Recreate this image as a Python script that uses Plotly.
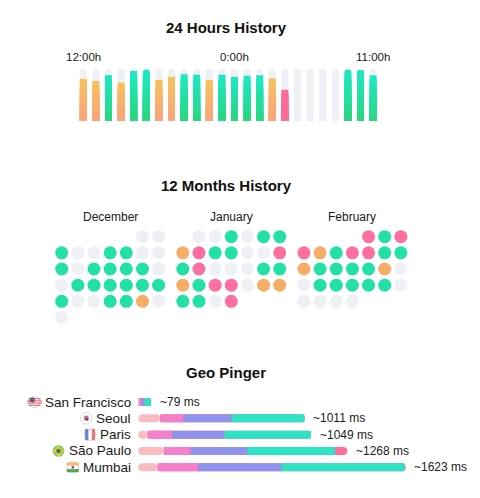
import datetime
import plotly.graph_objects as go

# the page body keeps its default 8px margin, so the figure is sized and
# calibrated against the window minus that margin
PAGE_MARGIN = 8
W, H = 480 - 2 * PAGE_MARGIN, 498 - 2 * PAGE_MARGIN
FONT = 'Liberation Sans, Arial, sans-serif'
INK = '#1a1a1c'

# ---- 24 hours history ----
HOUR_LABELS = ['12:00h', '0:00h', '11:00h']
HOUR_LABEL_AT = [0, 12, 23]
HOUR_UPTIME = [81, 77, 88, 74, 96, 99, 79, 85, 90, 89, 79, 89,
               85, 87, 88, 82, 60, 0, 0, 0, 0, 99, 98, 88]
HOUR_STATUS = ['warn', 'warn', 'ok', 'warn', 'ok', 'ok', 'warn', 'warn', 'ok', 'ok', 'warn', 'ok',
               'ok', 'ok', 'ok', 'warn', 'down', 'none', 'none', 'none', 'none', 'ok', 'ok', 'ok']

# ---- 12 months history (one letter per day: g ok, o warn, p down, n no data) ----
MONTH_NAMES = ['December', 'January', 'February']
MONTH_FIRST_DAY = [datetime.date(2018, 12, 1), datetime.date(2019, 1, 1), datetime.date(2019, 2, 1)]
DEC_DAYS = 'nn' 'gnnggnn' 'gnggggn' 'ngggggg' 'gnnggon' 'n'
JAN_DAYS = 'nngngg' 'opggnnp' 'gpnnngg' 'ogppnoo' 'ggnp'
FEB_DAYS = 'pgp' 'pogppgg' 'oggggon' 'ngggggn' 'nnnn'

# ---- geo pinger (ms) ----
CITIES = ['San Francisco', 'Seoul', 'Paris', 'São Paulo', 'Mumbai']
FLAGS = ['us', 'kr', 'fr', 'br', 'in']
DNS_MS = [8, 132, 55, 154, 116]
CONNECT_MS = [10, 142, 150, 164, 247]
TLS_MS = [20, 294, 318, 344, 505]
WAIT_MS = [39, 440, 524, 533, 748]
TOTAL_MS = [79, 1011, 1049, 1268, 1623]

# colours
TRACK = '#eef0f5'
GRADIENT = {'ok': ('#2bd57c', '#1de9c6'), 'warn': ('#f9a27f', '#f6c35a'),
            'down': ('#ff6b9a', '#ff6b9a'), 'none': (TRACK, TRACK)}
DOT_COLORS = {'g': '#22e0a6', 'o': '#f6ad65', 'p': '#fd6f9f', 'n': '#eef0f5'}
PHASE_COLORS = ['#f8bcc1', '#f47fcb', '#8f93ee', '#2ee3c4', '#ff6b9b']

# pixel calibration of the three panels (screen pixels)
HOUR_X0, HOUR_STEP = 83.3, 12.6
HOUR_BASE, HOUR_PX_PER_PCT = 121, 0.52
CAL_X0, CAL_Y0, CELL = 61.7, 236.7, 16.15
PING_X0, PX_PER_MS = 138.3, 0.16476
PING_Y0, ROW_PX = 402, 16.33


def lerp(c1, c2, t):
    a = [int(c1[i:i + 2], 16) for i in (1, 3, 5)]
    b = [int(c2[i:i + 2], 16) for i in (1, 3, 5)]
    return '#%02x%02x%02x' % tuple(round(x + (y - x) * t) for x, y in zip(a, b))


def axis(rng, anchor):
    return dict(range=rng, visible=False, fixedrange=True, domain=[0, 1], anchor=anchor)


def xr(x0, step):
    x0 -= PAGE_MARGIN
    return [-x0 / step, (W - x0) / step]


def yr(y0, step, down=True):
    y0 -= PAGE_MARGIN
    if down:
        return [(H - y0) / step, -y0 / step]
    return [-(H - y0) / step, y0 / step]


fig = go.Figure()

# hours: grey tracks, then gradient bars built from overlapping shorter bars
hours = list(range(len(HOUR_UPTIME)))
bar_w = 7 / HOUR_STEP
fig.add_trace(go.Bar(x=hours, y=[100] * len(hours), width=bar_w, xaxis='x', yaxis='y',
                     marker=dict(color=TRACK, cornerradius='50%', line_width=0), hoverinfo='skip'))
N_SEG = 10
for k in range(N_SEG):
    frac = (N_SEG - k) / N_SEG
    t = (N_SEG - k - 0.5) / N_SEG
    fig.add_trace(go.Bar(
        x=hours, y=[v * frac for v in HOUR_UPTIME], width=bar_w, xaxis='x', yaxis='y',
        marker=dict(color=[lerp(*GRADIENT[s], t) for s in HOUR_STATUS],
                    cornerradius='50%' if k == 0 else 0, line_width=0),
        hoverinfo='skip'))

# months: calendar dots
dx, dy, dc = [], [], []
for m, (first, days) in enumerate(zip(MONTH_FIRST_DAY, [DEC_DAYS, JAN_DAYS, FEB_DAYS])):
    off = first.weekday()
    for d, s in enumerate(days):
        cell = off + d
        dx.append(m * 7.5 + cell % 7)
        dy.append(cell // 7)
        dc.append(DOT_COLORS[s])
fig.add_trace(go.Scatter(x=dx, y=dy, mode='markers', xaxis='x2', yaxis='y2', hoverinfo='skip',
                         marker=dict(size=13, color=dc, line_width=0)))

# geo pinger: stacked phases
rows = list(range(len(CITIES)))
bh = 8 / ROW_PX
b1 = DNS_MS
b2 = [a + b for a, b in zip(b1, CONNECT_MS)]
b3 = [a + b for a, b in zip(b2, TLS_MS)]
segs = [
    (b1, [t - a for t, a in zip(TOTAL_MS, b1)], PHASE_COLORS[4], 4),
    (b1, [-a for a in DNS_MS], PHASE_COLORS[0], 4),
    (b1, CONNECT_MS, PHASE_COLORS[1], 0),
    (b2, TLS_MS, PHASE_COLORS[2], 0),
    (b3, WAIT_MS, PHASE_COLORS[3], 0),
]
for base, length, col, cr in segs:
    fig.add_trace(go.Bar(y=rows, x=length, base=base, orientation='h', width=bh,
                         xaxis='x3', yaxis='y3', hoverinfo='skip',
                         marker=dict(color=col, cornerradius=cr, line_width=0)))

# flags drawn left of the right-aligned city names (Arial metrics)
ARIAL = {'S': 667, 'a': 556, 'n': 556, ' ': 278, 'F': 611, 'r': 333, 'c': 500, 'i': 222,
         's': 500, 'o': 556, 'e': 556, 'u': 556, 'l': 222, 'P': 667, 'ã': 556, 'M': 833,
         'm': 833, 'b': 556}
LABEL_SIZE = 13.5
label_right = -5.5 / PX_PER_MS
RIM = '#b9b9bd'
FLAG_PARTS = {
    'us': [('circle', 11.5, '#ffffff', RIM, 0.8, 0, 0),
           ('line-ew', 8.6, 'rgba(0,0,0,0)', '#d8394a', 1.2, 0, -3.3),
           ('line-ew', 10.4, 'rgba(0,0,0,0)', '#d8394a', 1.2, 0, -1.1),
           ('line-ew', 10.4, 'rgba(0,0,0,0)', '#d8394a', 1.2, 0, 1.1),
           ('line-ew', 8.6, 'rgba(0,0,0,0)', '#d8394a', 1.2, 0, 3.3),
           ('circle', 5.5, '#3c3b6e', '#3c3b6e', 0, -2.2, -2)],
    'kr': [('circle', 11.5, '#ffffff', RIM, 0.8, 0, 0),
           ('circle', 5, '#cd2e3a', '#cd2e3a', 0, 0, -0.3),
           ('circle', 3, '#0047a0', '#0047a0', 0, 0.6, 1)],
    'fr': [('circle', 11.5, '#ffffff', RIM, 0.8, 0, 0),
           ('line-ns', 8, 'rgba(0,0,0,0)', '#2b4fd6', 3.2, -3.3, 0),
           ('line-ns', 8, 'rgba(0,0,0,0)', '#ef4135', 3.2, 3.3, 0)],
    'br': [('circle', 11.5, '#1fa24a', RIM, 0.5, 0, 0),
           ('diamond', 9, '#fedf00', '#fedf00', 0, 0, 0),
           ('circle', 4.5, '#1d3f99', '#1d3f99', 0, 0, 0)],
    'in': [('circle', 11.5, '#ffffff', RIM, 0.8, 0, 0),
           ('line-ew', 8.5, 'rgba(0,0,0,0)', '#ff9933', 3.2, 0, -3.3),
           ('line-ew', 8.5, 'rgba(0,0,0,0)', '#138808', 3.2, 0, 3.3),
           ('circle', 2.5, '#000080', '#000080', 0, 0, 0)],
}
fx, fy, fsym, fsize, fcol, flc, flw = [], [], [], [], [], [], []
for i, (city, flag) in enumerate(zip(CITIES, FLAGS)):
    text_w = sum(ARIAL[ch] for ch in city) / 1000 * LABEL_SIZE
    cx = label_right - (text_w + 12) / PX_PER_MS
    for sym, sz, col, lc, lw, ox, oy in FLAG_PARTS[flag]:
        fx.append(cx + ox / PX_PER_MS)
        fy.append(i + oy / ROW_PX)
        fsym.append(sym)
        fsize.append(sz)
        fcol.append(col)
        flc.append(lc)
        flw.append(lw)
fig.add_trace(go.Scatter(x=fx, y=fy, mode='markers', xaxis='x3', yaxis='y3', hoverinfo='skip',
                         marker=dict(symbol=fsym, size=fsize, color=fcol,
                                     line=dict(color=flc, width=flw))))

ann = []
for title, ypx in [('24 Hours History', 28), ('12 Months History', 185), ('Geo Pinger', 372)]:
    ann.append(dict(text='<b>%s</b>' % title, xref='paper', yref='paper',
                    x=(226 - PAGE_MARGIN) / W, y=1 - (ypx - PAGE_MARGIN) / H,
                    xanchor='center', yanchor='middle', showarrow=False,
                    font=dict(size=15, color='#111111')))
for lab, at in zip(HOUR_LABELS, HOUR_LABEL_AT):
    ann.append(dict(text=lab, xref='x', yref='y', x=at, y=100, xanchor='center', yanchor='bottom',
                    yshift=4, showarrow=False, font=dict(size=11.5, color=INK)))
for m, name in enumerate(MONTH_NAMES):
    ann.append(dict(text=name, xref='x2', yref='y2', x=m * 7.5 + 3, y=-1.25, xanchor='center',
                    yanchor='middle', showarrow=False, font=dict(size=12, color=INK)))
for i, city in enumerate(CITIES):
    ann.append(dict(text=city, xref='x3', yref='y3', x=label_right, y=i, xanchor='right',
                    yanchor='middle', showarrow=False, font=dict(size=LABEL_SIZE, color=INK)))
    ann.append(dict(text='~%d ms' % TOTAL_MS[i], xref='x3', yref='y3',
                    x=TOTAL_MS[i] + 6.5 / PX_PER_MS, y=i, xanchor='left', yanchor='middle',
                    showarrow=False, font=dict(size=12, color=INK)))

fig.update_layout(
    width=W, height=H, margin=dict(l=0, r=0, t=0, b=0, pad=0),
    paper_bgcolor='white', plot_bgcolor='rgba(0,0,0,0)', showlegend=False, barmode='overlay',
    font=dict(family=FONT, color=INK),
    xaxis=axis(xr(HOUR_X0, HOUR_STEP), 'y'),
    yaxis=axis(yr(HOUR_BASE, HOUR_PX_PER_PCT, down=False), 'x'),
    xaxis2=axis(xr(CAL_X0, CELL), 'y2'),
    yaxis2=axis(yr(CAL_Y0, CELL), 'x2'),
    xaxis3=axis(xr(PING_X0, PX_PER_MS), 'y3'),
    yaxis3=axis(yr(PING_Y0, ROW_PX), 'x3'),
    annotations=ann,
)

fig.write_html('out.html')
